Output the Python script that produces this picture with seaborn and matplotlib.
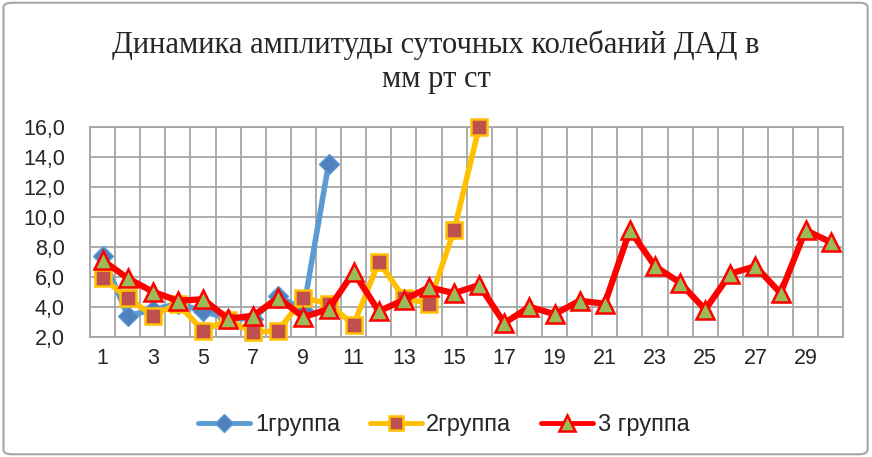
import numpy as np
import pandas as pd
import matplotlib
matplotlib.use("Agg")
import matplotlib.pyplot as plt
import seaborn as sns
from matplotlib.patches import FancyBboxPatch
from matplotlib.ticker import FuncFormatter, MultipleLocator

title = "Динамика амплитуды суточных колебаний ДАД в\nмм рт ст"
series_names = ["1группа", "2группа", "3 группа"]

x1 = list(range(1, 11))
g1 = [7.4, 3.4, 3.8, 4.2, 3.7, 3.2, 3.2, 4.7, 3.8, 13.5]

x2 = list(range(1, 17))
g2 = [5.9, 4.6, 3.4, 4.2, 2.4, 3.1, 2.3, 2.4, 4.6, 4.2, 2.8, 7.0, 4.6, 4.2, 9.1, 16.0]

x3 = list(range(1, 31))
g3 = [7.1, 5.9, 5.0, 4.4, 4.5, 3.2, 3.4, 4.6, 3.3, 3.85,
      6.3, 3.7, 4.45, 5.3, 4.9, 5.45, 2.9, 4.0, 3.5, 4.4,
      4.2, 9.1, 6.7, 5.6, 3.8, 6.2, 6.7, 4.9, 9.1, 8.3]

sns.set_theme(style="white")
plt.rcParams['font.family'] = ['Liberation Sans', 'DejaVu Sans']

fig = plt.figure(figsize=(8.72, 4.57), dpi=100)
fig.patch.set_facecolor("white")
border = FancyBboxPatch((0.004, 0.006), 0.991, 0.988,
                        boxstyle="round,pad=0,rounding_size=0.01",
                        transform=fig.transFigure, facecolor="none",
                        edgecolor="#A6A6A6", linewidth=1.5)
fig.patches.append(border)

ax = fig.add_axes([0.1032, 0.2632, 0.8639, 0.4596])

sns.lineplot(x=x1, y=g1, ax=ax, color="#5B9BD5", linewidth=4, marker="D",
             markersize=10.5, markerfacecolor="#4F81BD", markeredgecolor="#5B9BD5",
             markeredgewidth=1, label=series_names[0], zorder=3, clip_on=False)
sns.lineplot(x=x2, y=g2, ax=ax, color="#FFC000", linewidth=4, marker="s",
             markersize=11.5, markerfacecolor="#C0504D", markeredgecolor="#FFC000",
             markeredgewidth=1.8, label=series_names[1], zorder=4, clip_on=False)
sns.lineplot(x=x3, y=g3, ax=ax, color="#FF0000", linewidth=4.5, marker="^",
             markersize=13, markerfacecolor="#9BBB59", markeredgecolor="#FF0000",
             markeredgewidth=1.8, label=series_names[2], zorder=5, clip_on=False)

ax.set_xlim(0.5, 30.5)
ax.set_ylim(2, 16)
ax.set_xticks(list(range(1, 31, 2)))
ax.set_xticklabels([str(i) for i in range(1, 31, 2)])
ax.set_xticks(np.arange(0.5, 31, 1), minor=True)
ax.yaxis.set_major_locator(MultipleLocator(2))
ax.yaxis.set_major_formatter(FuncFormatter(lambda v, p: f"{v:.1f}".replace(".", ",")))
ax.grid(False)
ax.grid(True, which="minor", axis="x", color="#A6A6A6", linewidth=1.3)
ax.grid(True, which="major", axis="y", color="#A6A6A6", linewidth=1.3)
ax.set_axisbelow(True)
for s in ax.spines.values():
    s.set_color("#A6A6A6")
    s.set_linewidth(1.3)
ax.tick_params(axis="both", which="both", length=0, labelsize=15.5, colors="#262626")
ax.tick_params(axis="x", pad=8)
ax.tick_params(axis="y", pad=18)
ax.set_xlabel("")
ax.set_ylabel("")

fig.text(0.5, 0.865, title, ha="center", va="center", fontsize=22,
         family=["Liberation Serif", "DejaVu Serif"], color="#262626", linespacing=1.22)

leg = ax.legend(loc="center", bbox_to_anchor=(0.509, 0.07), bbox_transform=fig.transFigure,
                ncol=3, frameon=False, fontsize=17, handlelength=2.2,
                columnspacing=1.25, handletextpad=0.2, markerscale=0.85)
for h in leg.legend_handles:
    h.set_linewidth(3.5)
for t in leg.get_texts():
    t.set_color("#262626")

fig.savefig("out.png", dpi=100, facecolor="white")
